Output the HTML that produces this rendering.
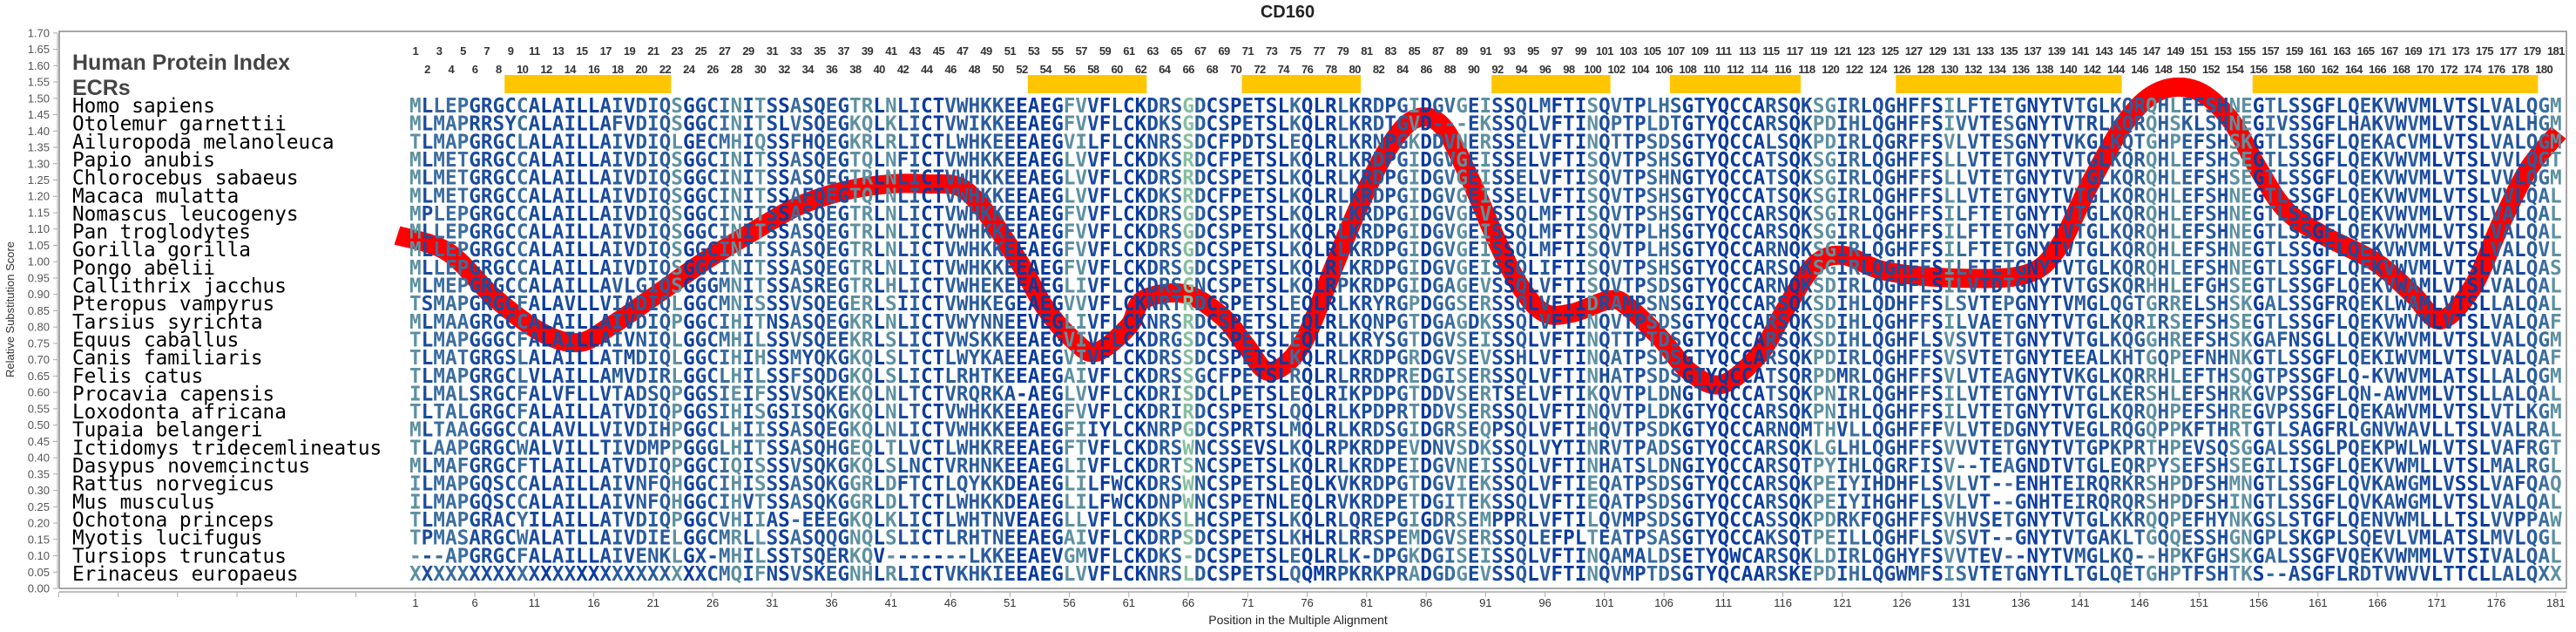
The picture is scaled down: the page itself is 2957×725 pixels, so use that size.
<!DOCTYPE html>
<html><head><meta charset="utf-8"><style>
html,body{margin:0;padding:0;background:#fff;}
svg{display:block;}
</style></head><body>
<svg id="c" xmlns="http://www.w3.org/2000/svg" width="2957" height="725" viewBox="0 0 2957 725">
<rect width="2957" height="725" fill="#fff"/>
<text x="1478" y="20" text-anchor="middle" font-family="Liberation Sans, sans-serif" font-weight="bold" font-size="20" fill="#222">CD160</text>
<g id="g"></g>
</svg>
<script>
(function(){
var NS="http://www.w3.org/2000/svg",g=document.getElementById('g');
function el(t,a,txt){var e=document.createElementNS(NS,t);for(var k in a)e.setAttribute(k,a[k]);if(txt!=null)e.textContent=txt;g.appendChild(e);return e;}
var X0=470,CW=13.65;
// frame
el('rect',{x:68,y:36,width:2878,height:639,fill:'none',stroke:'#888','stroke-width':1.5});
// y axis
el('line',{x1:66,y1:38,x2:66,y2:675,stroke:'#aaa','stroke-width':1});
for(var i=0;i<=34;i++){var v=i*0.05,y=675-i*18.74;
el('line',{x1:61,y1:y,x2:66,y2:y,stroke:'#aaa','stroke-width':1});
el('text',{x:57,y:y+4.5,'text-anchor':'end','font-family':'Liberation Sans, sans-serif','font-size':13,fill:'#555'},v.toFixed(2));}
var yt=el('text',{x:0,y:0,'text-anchor':'middle','font-family':'Liberation Sans, sans-serif','font-size':13,fill:'#333',transform:'translate(16,355) rotate(-90)'},'Relative Substitution Score');
// x axis
el('line',{x1:68,y1:679,x2:2946,y2:679,stroke:'#aaa','stroke-width':1.5});
for(var u=1-30;u<=181;u+=5){var x=X0+CW*(u-0.5);if(x<66)continue;
el('line',{x1:x,y1:679,x2:x,y2:685,stroke:'#aaa','stroke-width':1});
if(u>=1)el('text',{x:x,y:696,'text-anchor':'middle','font-family':'Liberation Sans, sans-serif','font-size':13,fill:'#333'},String(u));}
el('text',{x:1490,y:716,'text-anchor':'middle','font-family':'Liberation Sans, sans-serif','font-size':14,fill:'#222'},'Position in the Multiple Alignment');
// headers
el('text',{x:83,y:80,'font-family':'Liberation Sans, sans-serif','font-weight':'bold','font-size':25,fill:'#444'},'Human Protein Index');
el('text',{x:83,y:109,'font-family':'Liberation Sans, sans-serif','font-weight':'bold','font-size':25,fill:'#444'},'ECRs');
for(var n=1;n<=181;n++){var x=X0+CW*(n-0.5);
el('text',{x:x,y:(n%2?63:84),'text-anchor':'middle','font-family':'Liberation Sans, sans-serif','font-weight':'bold','font-size':13,'letter-spacing':-0.6,fill:'#333'},String(n));}
var bars=[[9,22],[53,62],[71,80],[92,101],[107,117],[126,144],[156,179]];
bars.forEach(function(b){el('rect',{x:X0+CW*(b[0]-1),y:86,width:CW*(b[1]-b[0]+1),height:21,fill:'#ffc600'});});
// red curve
var P=[[456,270],[514,289],[567,341],[621,381],[664,393],[701,374],[755,337],[808,300],[862,267],[915,237],[969,219],[1022,211],[1065,211],[1103,215],[1135,248],[1172,304],[1199,352],[1231,389],[1258,404],[1296,374],[1312,344],[1360,337],[1403,363],[1430,396],[1457,426],[1494,396],[1532,304],[1558,241],[1591,174],[1623,137],[1655,144],[1687,204],[1719,278],[1746,330],[1773,359],[1805,359],[1848,344],[1869,352],[1907,389],[1939,426],[1976,441],[2019,407],[2051,352],[2083,304],[2116,293],[2164,311],[2244,319],[2324,315],[2362,285],[2399,211],[2442,137],[2480,104],[2522,104],[2560,137],[2592,193],[2624,241],[2667,270],[2726,300],[2769,337],[2801,367],[2838,330],[2871,256],[2903,193],[2937,152]];
var d='M'+P[0][0]+','+P[0][1];
for(var i=0;i<P.length-1;i++){var p0=P[i-1]||P[i],p1=P[i],p2=P[i+1],p3=P[i+2]||p2;
d+=' C'+(p1[0]+(p2[0]-p0[0])/6)+','+(p1[1]+(p2[1]-p0[1])/6)+' '+(p2[0]-(p3[0]-p1[0])/6)+','+(p2[1]-(p3[1]-p1[1])/6)+' '+p2[0]+','+p2[1];}
el('path',{d:d,fill:'none',stroke:'#ff0000','stroke-width':22,'stroke-linejoin':'round','stroke-linecap':'butt'});
// sequences
var names=["Homo sapiens","Otolemur garnettii","Ailuropoda melanoleuca","Papio anubis","Chlorocebus sabaeus","Macaca mulatta","Nomascus leucogenys","Pan troglodytes","Gorilla gorilla","Pongo abelii","Callithrix jacchus","Pteropus vampyrus","Tarsius syrichta","Equus caballus","Canis familiaris","Felis catus","Procavia capensis","Loxodonta africana","Tupaia belangeri","Ictidomys tridecemlineatus","Dasypus novemcinctus","Rattus norvegicus","Mus musculus","Ochotona princeps","Myotis lucifugus","Tursiops truncatus","Erinaceus europaeus"];
var A=["MLLEPGRGCCALAILLAIVDIQSGGCINITSSASQEGTRLNLICTVWHKKEEAEGFVVF","MLMAPRRSYCALAILLAFVDIQSGGCINITSLVSQEGKQLKLICTVWIKKEEAEGFVVF","TLMAPGRGCLALAILLAIVDIQLGECMHIQSSFHQEGKRLRLICTLWHKEEEAEGVILF","MLMETGRGCCALAILLAIVDIQSGGCINITSSASQEGTQLNFICTVWHKKEEAEGLVVF","MLMETGRGCCALAILLAIVDIQSGGCINITSSASQEGTRLNLICTVWHKKEEAEGLVVF","MLMETGRGCCALAILLAIVDIQSGGCINITSSAFQEGTQLNLICTVWHKKEEAEGLVVF","MPLEPGRGCCALAILLAIVDIQSGGCINITSSASQEGTRLNLICTVWHKKEEAEGFVVF","MLLEPGRGCCALAILLAIVDIQSGGCINITSSASQEGTRLNLICTVWHKKEEAEGFVVF","MLLEPGRGCCALAILLAIVDIQSGGCINITSSASQEGTRLNLICTVWHKKEEAEGFVVF","MLLEPGRGCCALAILLAIVDIQSGGCINITSSASQEGTRLNLICTVWHKKEEAEGFVVF","MLMEPGRGCCALAILLAVLGIQSGGGMNITSSASREGTRLHLICTVWHEKEEAEGLIVF","TSMAPGRGCFALAVLLVIADIQLGGCMNISSSVSQEGERLSIICTVWHKEGEAEGVVVF","MLMAAGRGCCALAILLAIVDIQPGGCIHITNSASQEGKRLNLICTVWYNNEEVEGLIVF","TLMAPGGGCFALAILLAIVNIQLGGCMHILSSVSQEEKRLSLICTVWSKKEEAEGVIVF","TLMATGRGSLALAILLATMDIQLGGCIHIHSSMYQKGKQLSLTCTLWYKAEEAEGVIVF","TLMAPGRGCLVLAILLAMVDIRLGGCLHILSSFSQDGKQLSLICTLRHTKEEAEGAIVF","ILMALSRGCFALVFLLVTADSQPGGSIEIFSSVSQKEKQLNLTCTVRQRKA-AEGLVVF","TLTALGRGCFALAILLATVDIQPGGSIHISGSISQKGKQLNLTCTVWHKKEEAEGFVVF","MLTAAGGGCCALAVLLVIVDIHPGGCLHIISSASQEGKQLNLICTVWHKKEEAEGFIIY","TLAAPGRGCWALVILLTIVDMPPGGGLHITSSASQHGEQLTLVCTLWHKREEAEGFTVF","MLMAFGRGCFTLAILLATVDIQPGGCIQISSSVSQKGKQLSLNCTVRHNKEEAEGLIVF","ILMAPGQSCCALAILLAIVNFQHGGCIHISSSASQKGGRLDFTCTLQYKKDEAEGLILF","ILMAPGQSCCALAILLAIVNFQHGGCIHVTSSASQKGGRLDLTCTLWHKKDEAEGLILF","TLMAPGRACYILAILLATVDIQPGGCVHIIAS-EEEGKQLKLICTLWHTNVEAEGLLVF","TPMASARGCWALATLLAIVDIELGGCMRLLSSASQQGNQLSLICTLRHTNEEAEGAIVF","---APGRGCFALAILLAIVENKLGX-MHILSSTSQERKQV-------LKKEEAEVGMVF","XXXXXXXXXXXXXXXXXXXXXXXXXCMQIFNSVSKEGNHLRLICTVKHKIEEAEGLVVF"];
var B=["LCKDRSGDCSPETSLKQLRLKRDPGIDGVGEISSQLMFTISQVTPLHSGTYQCCARSQKSG","LCKDKSGDCSPETSLKQLRLKRDTGVD---EKSSQLVFTINQPTPLDTGTYQCCARSQKPD","LCKNRSSDCFPDTSLEQLRLKRNPGKDDVNERSSELVFTINQTTPSDSGTYQCCALSQKPD","LCKDKSRDCFPETSLKQLRLKRDPGIDGVGEISSELVFTISQVTPSHSGTYQCCATSQKSG","LCKDRSRDCSPETSLKQLRLKRDPGIDGVGEISSELVFTISQVTPSHNGTYQCCATSQKSG","LCKDKSRDCFPETSLKQLRLKRDPGIDGVGEISSELVFTISQVTPSHSGTYQCCATSQKSG","LCKDRSGDCSPETSLKQLRLKRDPGIDGVGEVSSQLMFTISQVTPSHSGTYQCCARSQKSG","LCKDRSGDCSPETSLKQLRLKRDPGIDGVGEISSQLMFTISQVTPLHSGTYQCCARSQKSG","LCKDRSGDCSPETSLKQLRLKRDPGIDGVGEISSQLMFTISQVTPLHSGTYQCCARNQKSG","LCKDRSGDCSPETSLKQLRLKRDPGIDGVGEISSQLIFTISQVTPSHSGTYQCCARSQKSG","LCKDRSGNCSPETSLKQLRPKRDPGIDGAGEVSSQLVFTISQVTPSDSGTYQCCARNQKSD","LCKNRTRDCSPETSLEQLRLKRYRGPDGGSERSSQLVFTIDRAMPSNSGIYQCCARSQKSD","LCKNRSRDCSPETSLEQLRLKQNPGTDGAGDKSSQLVFTINQVTPSDSGTYQCCARSQKSD","LCKDRGSDCSPETSLEQLRLKRYSGTDGVSEISSQLVFTINQTTPTDSGTYQCCARSQKSD","LCKDRSSDCSPETSLKQLRLKRDPGRDGVSEVSSHLVFTINQATPSDSGTYQCCARSQKPD","LCKDRSSGCFPETSLRQLRLRRDPREDGISERSSQLVFTINHATPSDSGTYQCCATSQRPD","LCKDRISDCLPETSLEQLRIKPDPGTDDVSERTSELVFTIKQVTPLDNGTYQCCATSQKPN","LCKDRIRDCSPETSLQQLRLKPDPRTDDVSERSSQLVFTINQVTPLDKGTYQCCARSQKPN","LCKNRPGDCSPRTSLMQLRLKRDSGIDGRSEQPSQLVFTIHQVTPSDKGTYQCCARNQMTH","LCKDRSWNCSSEVSLKQLRPKRDPEVDNVSDKSSQLVYTINRVTPADSGTYQCCARSQKLG","LCKDRTSNCSPETSLKQLRLKRDPEIDGVNEISSQLVFTINHATSLDNGIYQCCARSQTPY","WCKDRSWNCSPETSLEQLKVKRDPGTDGVIEKSSQLVFTIEQATPSDSGTYQCCARSQKPE","WCKDNPWNCSPETNLEQLRVKRDPETDGITEKSSQLVFTIEQATPSDSGTYQCCARSQKPE","LCKDKSLHCSPETSLKQLRLQREPGIGDRSEMPPRLVFTILQVMPSDSGTYQCCASSQKPD","LCKDRPSDCSPETSLKHLRLRRSPEMDGVSERSSQLEFPLTEATPSASGTYQCCAKSQTPE","LCKDKS-DCSPETSLEQLRLK-DPGKDGISEISSQLVFTINQAMALDSETYQWCARSQKLD","LCKNRSLDCSPETSLQQMRPKRKPRADGDGEVSSQLVFTINQVMPTDSGTYQCAARSKEPD"];
var C=["IRLQGHFFSILFTETGNYTVTGLKQRQHLEFSHNEGTLSSGFLQEKVWVMLVTSLVALQGM","IHLQGHFFSIVVTESGNYTVTRLKQRQHSKLSHNEGIVSSGFLHAKVWVMLVTSLVALHGM","IRLQGRFFSVLVTESGNYTVKGLKQTGHPEFSHSKGTLSSGFLQEKACVMLVTSLVALQGM","IRLQGHFFSLLVTETGNYTVTGLKQRQHLEFSHSEGTLSSGFLQEKVWVMLVTSLVVLQGT","IRLQGHFFSLLVTETGNYTVTGLKQRQHLEFSHSEGTLSSGFLQEKVWVMLVTSLVVLQGM","IRLQGHFFSLLVTETGNYTVTGLKQRQHLEFSHNEGTLSSGFLQEKVWVMLVTSLVVLQAL","IRLQGHFFSILFTETGNYTVTGLKQRQHLEFSHNEGTLSSDFLQEKVWVMLVTSLVALQAL","IRLQGHFFSILFTETGNYTVTGLKQRQHLEFSHNEGTLSSGFLQEKVWVMLVTSLVALQAL","IRLQGHFFSILFTETGNYTVTGLKQRQHLEFSHNEGTLSSGFLQEKVWVMLVTSLVALQVL","IRLQGHFFSILFTETGNYTVTGLKQRQHLEFSHNEGTLSSGFLQEKVWVMLVTSLVALQAS","IRLQGHFLSILVTDTGNYTVTGSKQRHHLEFGHSEGTLSSGFLQEKVWAMLVTSLVALQAL","IHLQDHFFSLSVTEPGNYTVMGLQGTGRRELSHSKGALSSGFRQEKLWAMLVTSLLALQAL","IHLQGHFFSILVAETGNYTVTGLKQRIRSEFSHSEGTLSSGFLQEKVWVMLVTSLVALQAF","IHLQGHFLSVSVTETGNYTVTGLKQGGHREFSHSKGAFNSGLLQEKVWVMLVTSLVALQGM","IRLQGHFFSVSVTETGNYTEEALKHTGQPEFNHNKGTLSSGFLQEKIWVMLVTSLVALQAF","MRLQGHFFSVLVTEAGNYTVKGLKQRRHLEFTHSQGTPSSGFLQ-KVWVMLATSLLALQGM","IRLQGHFFSILVTETGNYTVTGLKERSHLEFSHRKGVPSSGFLQN-AWVMLVTSLLALQAL","IHLQGHFFSILVTETGNYTVTGLKQRQHPEFSHREGVPSSGFLQEKAWVMLVTSLVTLKGM","VLLQGHFFFVLVTEDGNYTVEGLRQGQPPKFTHRTGTLSAGFRLGNVWAVLLTSLVALRAL","LHLQGHFFSVVVTETGNYTVTGPKPRTHPEVSQSGGALSSGLPQEKPWLWLVTSLVAFRGT","IHLQGRFISV--TEAGNDTVTGLEQRPYSEFSHSEGILISGFLQEKVWMLLVTSLMALRGL","IYIHDHFLSVLVT--ENHTEIRQRKRSHPDFSHMNGTLSSGFLQVKAWGMLVSSLVAFQAQ","IYIHGHFLSVLVT--GNHTEIRQRQRSHPDFSHINGTLSSGFLQVKAWGMLVTSLVALQAL","RKFQGHFFSVHVSETGNYTVTGLKKRQQPEFHYNKGSLSTGFLQENVWMLLLTSLVVPPAW","ILLQGHFLSVSVT--GNYTVTGAKLTGQQESSHGNGPLSKGPLSQEVLVMLATSLMVLQGL","IRLQGHYFSVVTEV--NYTVMGLKQ--HPKFGHSKGALSSGFVQEKVWMMLVTSIVALQAL","IHLQGWMFSISVTETGNYTLTGLQETGHPTFSHTKS--ASGFLRDTVWVVLTTCLLALQXX"];
function fit(s,n){s=s.slice(0,n);while(s.length<n)s+='-';return s;}
var S=[];for(var r=0;r<27;r++)S.push(fit(A[r],59)+fit(B[r],61)+fit(C[r],61));
var cols=[];
for(var c=0;c<181;c++){var cnt={},m=0;for(var r=0;r<27;r++){var ch=S[r][c];cnt[ch]=(cnt[ch]||0)+1;if(cnt[ch]>m)m=cnt[ch];}
var f=m/27,col;
if(f>=0.93)col='#0a3a9e';else if(f>=0.8)col='#1a4b9e';else if(f>=0.65)col='#2a5c9c';else if(f>=0.5)col='#3b6d9e';else if(f>=0.35)col='#5d90a0';else col='#86bea0';
cols.push(col);}
var xs=[];for(var c=0;c<181;c++)xs.push((X0+CW*c).toFixed(2));
var xstr=xs.join(' ');
for(var r=0;r<27;r++){var yb=129+r*20.65;
el('text',{x:83,y:yb,'font-family':'DejaVu Sans Mono, Liberation Mono, monospace','font-size':22.7,fill:'#000'},names[r]);
var t=el('text',{x:xstr,y:yb,'font-family':'DejaVu Sans Mono, Liberation Mono, monospace','font-weight':'bold','font-size':22.7});
var c=0;while(c<181){var e=c;while(e<181&&cols[e]==cols[c])e++;
var ts=document.createElementNS(NS,'tspan');ts.setAttribute('fill',cols[c]);ts.textContent=S[r].slice(c,e);t.appendChild(ts);c=e;}
}
})();
</script>
</body></html>
